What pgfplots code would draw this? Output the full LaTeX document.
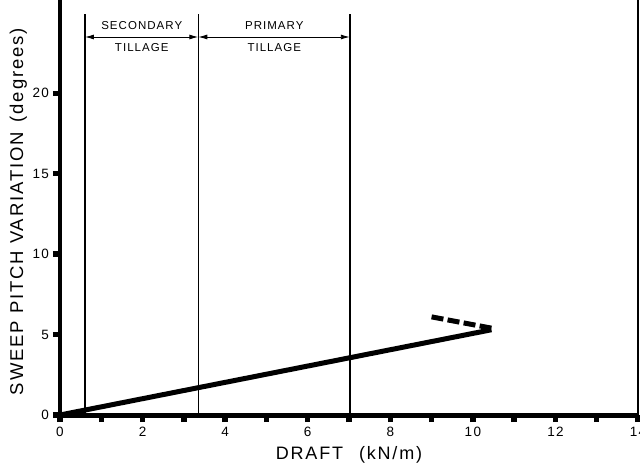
\documentclass[border=0pt]{standalone}
\usepackage{fontspec}
\setmainfont{Liberation Sans}
\usepackage{pgfplots}
\pgfplotsset{compat=1.18}
\usetikzlibrary{arrows.meta}
\begin{document}
\begin{tikzpicture}
\useasboundingbox (0,0) rectangle (640pt,464pt);
\begin{axis}[
  at={(60pt,49pt)}, anchor=south west,
  scale only axis, width=578pt, height=415pt,
  xmin=0, xmax=14, ymin=0, ymax=25.8,
  clip=false,
  axis x line=bottom, axis y line=left,
  x axis line style={-, line width=5pt},
  y axis line style={-, line width=4pt},
  xtick={0,2,...,14}, minor xtick={1,3,...,13},
  ytick={0,5,10,15,20},
  tick align=outside,
  major tick length=7pt, minor tick length=7pt,
  every tick/.style={black, line width=5.5pt},
  every minor tick/.style={black, line width=5.5pt},
  /pgf/number format/assume math mode=true,
  tick label style={font=\fontsize{13.5}{15}\selectfont\addfontfeature{LetterSpace=10}},
  yticklabel style={xshift=-0.5pt},
  xticklabel style={yshift=-1.5pt},
  xlabel={DRAFT\hspace{16pt}(kN/m)},
  ylabel={SWEEP PITCH VARIATION\hspace{10pt}(degrees)},
  xlabel style={at={(axis description cs:0.5,-0.097)}, anchor=center,
    font=\fontsize{18}{20}\selectfont\addfontfeature{LetterSpace=10}},
  ylabel style={at={(axis description cs:-0.072,0.49)}, anchor=center, rotate=0,
    font=\fontsize{18.5}{20}\selectfont\addfontfeature{LetterSpace=10}},
]
% boundary lines of tillage regions
\addplot[black, line width=1.6pt] coordinates {(0.605,0) (0.605,24.9)};
\addplot[black, line width=1.6pt] coordinates {(3.35,0) (3.35,24.9)};
\addplot[black, line width=1.6pt] coordinates {(7.02,0) (7.02,24.9)};
% right frame line
\draw[line width=2pt] (axis cs:14,0) -- (axis cs:14,25.8);
% arrows
\draw[{Latex[length=9pt,width=5pt]}-{Latex[length=9pt,width=5pt]}, line width=0.9pt]
  (axis cs:0.605,23.5) -- (axis cs:3.35,23.5);
\draw[{Latex[length=9pt,width=5pt]}-{Latex[length=9pt,width=5pt]}, line width=0.9pt]
  (axis cs:3.35,23.5) -- (axis cs:7.02,23.5);
\node[font=\fontsize{11.5}{13}\selectfont\addfontfeature{LetterSpace=9}] at (axis cs:1.98,24.2) {SECONDARY};
\node[font=\fontsize{11.5}{13}\selectfont\addfontfeature{LetterSpace=9}] at (axis cs:1.98,22.85) {TILLAGE};
\node[font=\fontsize{11.5}{13}\selectfont\addfontfeature{LetterSpace=9}] at (axis cs:5.19,24.2) {PRIMARY};
\node[font=\fontsize{11.5}{13}\selectfont\addfontfeature{LetterSpace=9}] at (axis cs:5.19,22.85) {TILLAGE};
% data
\addplot[black, line width=5pt] coordinates {(0,0) (10.45,5.3)};
\addplot[black, line width=5pt, dash pattern=on 12pt off 4.3pt] coordinates {(9.0,6.1) (10.45,5.4)};
\end{axis}
\end{tikzpicture}
\end{document}
